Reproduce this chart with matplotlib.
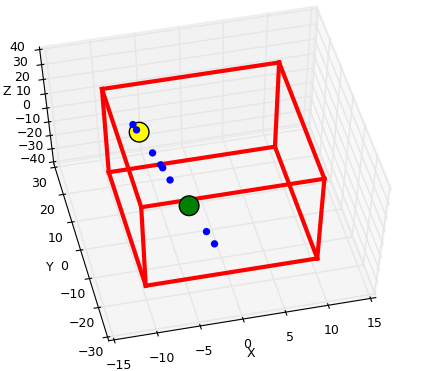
import numpy as np
import matplotlib
matplotlib.use('Agg')
import matplotlib.pyplot as plt
from itertools import product

plt.rcParams['axes3d.automargin'] = True
plt.rcParams['font.size'] = 9

# room box limits
box_x = [-10, 10]
box_y = [-20, 20]
box_z = [-30, 30]

# sources (big markers)
src_x = [-6.3, -3.6]
src_y = [18.2, -8.8]
src_z = [0, 0]
src_colors = ['yellow', 'green']

# small blue points
pt_x = [-6.7, -6.5, -5.6, -5.15, -5.05, -4.7, -2.7, -2.3]
pt_y = [21.1, 19.1, 10.5, 6.1, 5.0, 0.6, -18.0, -22.3]
pt_z = [0, 0, 0, 0, 0, 0, 0, 0]

fig = plt.figure(figsize=(4.39, 3.71), dpi=100)
ax = fig.add_subplot(projection='3d', computed_zorder=False)
# keep the old non-square 3d layout
ax.apply_aspect = lambda position=None: None
ax.set_position([0.0564, 0.1378, 0.8292, 0.7586])
ax.set_box_aspect((1, 1, 1), zoom=1.292)
ax.set_proj_type('persp', focal_length=1.349)
ax.view_init(elev=58.47, azim=-103.21)

# box edges: join corners that differ in one coordinate
corners = list(product(box_x, box_y, box_z))
for a in corners:
    for b in corners:
        if a < b and sum(u != v for u, v in zip(a, b)) == 1:
            ax.plot([a[0], b[0]], [a[1], b[1]], [a[2], b[2]],
                    color='red', linewidth=3, zorder=1)

ax.scatter(src_x, src_y, src_z, s=200, c=src_colors, edgecolors='black',
           linewidths=1, depthshade=False, zorder=2)
ax.scatter(pt_x, pt_y, pt_z, s=28, c='blue', edgecolors='none',
           depthshade=False, zorder=3)

ax.set_xlim(-15, 15)
ax.set_ylim(-30, 30)
ax.set_zlim(-40, 40)
ax.set_xticks(np.arange(-15, 16, 5))
ax.set_yticks(np.arange(-30, 31, 10))
ax.set_zticks(np.arange(-40, 41, 10))
ax.set_xlabel('X', labelpad=-6)
ax.set_ylabel('Y', labelpad=-6)
ax.set_zlabel('Z', labelpad=-6)

for axis in (ax.xaxis, ax.yaxis, ax.zaxis):
    axis._axinfo['grid']['color'] = (0.9, 0.9, 0.9, 1)
    axis._axinfo['grid']['linewidth'] = 1.0
    axis._axinfo['tick']['inward_factor'] = 0.2
    axis._axinfo['tick']['outward_factor'] = 0.1
ax.tick_params(pad=0)

fig.savefig('out.png', dpi=100)
